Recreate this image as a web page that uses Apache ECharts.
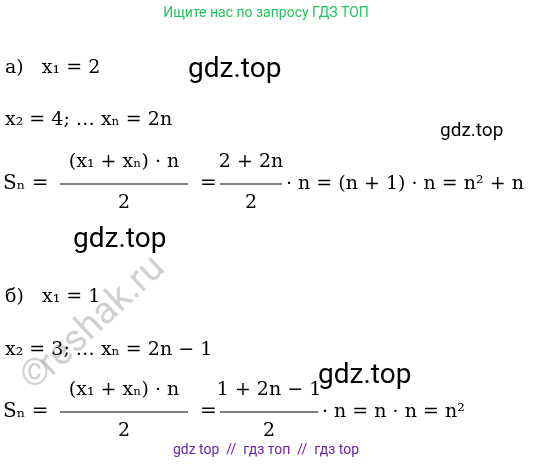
<!DOCTYPE html>
<html lang="ru">
<head>
<meta charset="UTF-8">
<title>ГДЗ</title>
<script src="https://cdn.jsdelivr.net/npm/echarts@6/dist/echarts.min.js"></script>
<style>html,body{margin:0;background:#fff}#main{width:533px;height:465px}</style>
</head>
<body>
<div id="main"></div>
<script>
var headerText = 'Ищите нас по запросу ГДЗ ТОП';
var footerText = 'gdz top  //  гдз топ  //  гдз top';
var watermarks = ['gdz.top', 'gdz.top', 'gdz.top', 'gdz.top'];
var mathLines = [
    'а)   x₁ = 2',
    'x₂ = 4; … xₙ = 2n',
    'б)   x₁ = 1',
    'x₂ = 3; … xₙ = 2n − 1'
];
var formula1 = ['Sₙ =', '(x₁ + xₙ) · n', '2', '=', '2 + 2n', '2', '· n = (n + 1) · n = n² + n'];
var formula2 = ['Sₙ =', '(x₁ + xₙ) · n', '2', '=', '1 + 2n − 1', '2', '· n = n · n = n²'];

var mathFont = '"DejaVu Serif", "Liberation Serif", serif';
var els = [];

function txt(x, y, s, size, opts) {
    opts = opts || {};
    els.push({
        type: 'text', x: x, y: y, rotation: opts.rot || 0,
        style: {
            text: s, fill: opts.color || '#000',
            font: (opts.italic ? 'italic ' : '') + size + 'px ' + (opts.family || mathFont),
            textAlign: opts.align || 'left', textVerticalAlign: 'middle',
            opacity: opts.opacity == null ? 1 : opts.opacity
        },
        z: opts.z || 10
    });
}
function bar(x1, x2, y) {
    els.push({type: 'line', shape: {x1: x1, y1: y, x2: x2, y2: y}, style: {stroke: '#000', lineWidth: 1.2}, z: 10});
}

txt(266, 13, headerText, 14, {color: '#22c55e', align: 'center', family: 'Roboto'});
txt(266, 450, footerText, 14, {color: '#6b21a8', align: 'center', family: 'Roboto'});

txt(5, 68, mathLines[0], 19);
txt(5, 120, mathLines[1], 19);
txt(5, 297, mathLines[2], 19);
txt(5, 350, mathLines[3], 19);

function formula(f, yc, f1x1, f1x2, f2x1, f2x2) {
    txt(3, yc, f[0], 20);
    txt((f1x1 + f1x2) / 2, yc - 22, f[1], 19, {align: 'center'});
    bar(f1x1, f1x2, yc);
    txt((f1x1 + f1x2) / 2, yc + 19, f[2], 19, {align: 'center'});
    txt(200, yc, f[3], 20);
    txt((f2x1 + f2x2) / 2, yc - 22, f[4], 19, {align: 'center'});
    bar(f2x1, f2x2, yc);
    txt((f2x1 + f2x2) / 2, yc + 19, f[5], 19, {align: 'center'});
    txt(f2x2 + 4, yc, f[6], 19);
}
formula(formula1, 184, 60, 188, 220, 282);
formula(formula2, 412, 60, 188, 220, 318);

txt(188, 70, watermarks[0], 28, {family: 'Roboto', z: 20});
txt(440, 131, watermarks[1], 19, {family: 'Roboto', z: 20});
txt(73, 240, watermarks[2], 28, {family: 'Roboto', z: 20});
txt(318, 376, watermarks[3], 28, {family: 'Roboto', z: 20});

txt(45, 370, 'reshak.ru', 38, {family: 'Roboto', color: '#999', opacity: 0.45, rot: 0.75, z: 5});
txt(35, 376, '©', 36, {family: 'Roboto', color: '#999', opacity: 0.45, align: 'center', z: 5});

var chart = echarts.init(document.getElementById('main'));
chart.setOption({animation: false, graphic: {elements: els}});
</script>
</body>
</html>
